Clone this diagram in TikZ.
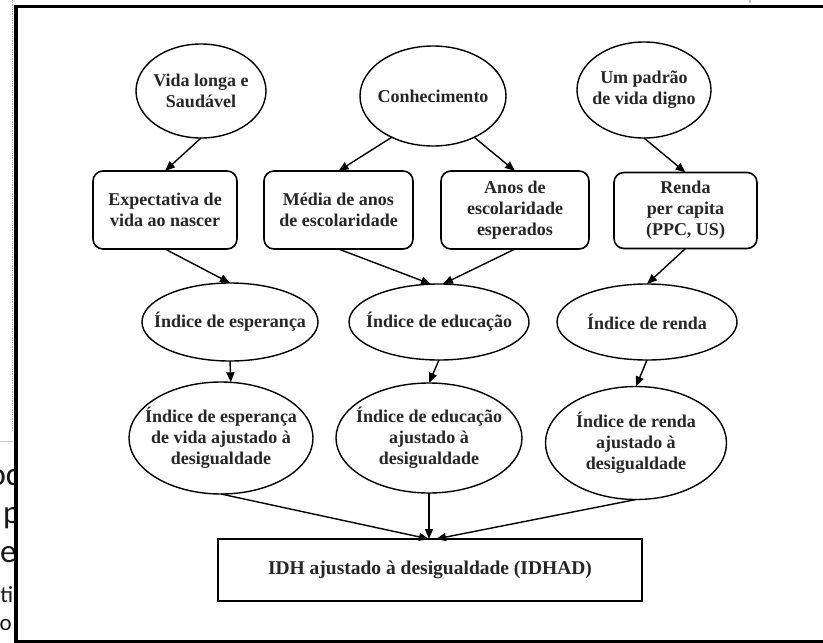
\documentclass[tikz,border=0pt]{standalone}
\usepackage{fontspec}
\setmainfont{Liberation Serif}
\newfontfamily\fragfont{Carlito}
\usetikzlibrary{shapes.geometric,arrows.meta}
\begin{document}
\begin{tikzpicture}[x=1pt,y=-1pt,
  every node/.style={inner sep=0pt,outer sep=0pt},
  ell/.style={draw,ellipse,line width=1.4pt},
  rbox/.style={draw,rectangle,rounded corners=10pt,line width=1.6pt},
  sbox/.style={draw,rectangle,line width=1.8pt},
  lbl/.style={align=center,font=\fontsize{18}{21}\selectfont\bfseries,text=black!85},
  biglbl/.style={align=center,font=\fontsize{19.5}{22}\selectfont\bfseries,text=black!85},
  frag/.style={anchor=base west,text=black!90},
  arr/.style={-{Triangle[length=10pt,width=8pt]},line width=1.4pt}]
\useasboundingbox (0,0) rectangle (823,643);
\fill[white] (0,0) rectangle (823,643);

% background fragments at the left edge
\draw[gray!60,densely dotted,line width=0.8pt] (12.5,0) -- (12.5,432);
\draw[gray!45,line width=1pt] (0,441) -- (13,441);
\draw[gray!50,line width=1.2pt] (750,0) -- (750,3);
\begin{scope}
\clip (0,0) rectangle (13.6,643);
\node[frag,font=\fragfont\fontsize{33}{33}\selectfont] (f1) at (-11.4,485) {oc};
\node[frag,font=\fragfont\fontsize{33}{33}\selectfont] (f2) at (3,523) {p};
\node[frag,font=\fragfont\fontsize{33}{33}\selectfont] (f3) at (0,562) {e};
\node[frag,font=\fragfont\fontsize{23}{23}\selectfont] (f4) at (0.5,602) {ti};
\node[frag,font=\fragfont\fontsize{23}{23}\selectfont] (f5) at (-0.5,630) {o};
\end{scope}

% frame
\draw[line width=3.8pt,line join=miter] (830,6.5) -- (15.6,6.5) -- (15.6,641.5) -- (830,641.5);

% row 1
\node[ell,minimum width=130pt,minimum height=94pt] (e1) at (201,91) {};
\node[lbl] (t1) at (e1) {Vida longa e\\Saudável};
\node[ell,minimum width=146pt,minimum height=100pt] (e2) at (433,96) {};
\node[lbl] (t2) at (e2) {Conhecimento};
\node[ell,minimum width=134pt,minimum height=96pt] (e3) at (644,90) {};
\node[lbl] (t3) at (e3) {Um padrão\\de vida digno};

% row 2
\node[rbox,minimum width=144pt,minimum height=78pt] (b1) at (165,210) {};
\node[lbl] (tb1) at (b1) {Expectativa de\\vida ao nascer};
\node[rbox,minimum width=149pt,minimum height=78pt] (b2) at (338.5,210) {};
\node[lbl] (tb2) at (b2) {Média de anos\\de escolaridade};
\node[rbox,minimum width=148pt,minimum height=78pt] (b3) at (515,210) {};
\node[lbl] (tb3) at (b3) {Anos de\\escolaridade\\esperados};
\node[rbox,minimum width=143pt,minimum height=76pt] (b4) at (685.5,210.5) {};
\node[lbl] (tb4) at (b4) {Renda\\per capita\\(PPC, US)};

% row 3
\node[ell,minimum width=176pt,minimum height=78pt] (e4) at (230,322) {};
\node[lbl] (t4) at (e4) {Índice de esperança};
\node[ell,minimum width=180pt,minimum height=76pt] (e5) at (439,322) {};
\node[lbl] (t5) at (e5) {Índice de educação};
\node[ell,minimum width=180pt,minimum height=76pt] (e6) at (647,322) {};
\node[lbl] (t6) at (e6) {Índice de renda};

% row 4
\node[ell,minimum width=184pt,minimum height=112pt] (e7) at (221,438) {};
\node[lbl] (t7) at (e7) {Índice de esperança\\de vida ajustado à\\desigualdade};
\node[ell,minimum width=186pt,minimum height=110pt] (e8) at (429,438) {};
\node[lbl] (t8) at (e8) {Índice de educação\\ajustado à\\desigualdade};
\node[ell,minimum width=181pt,minimum height=113pt] (e9) at (636,443) {};
\node[lbl] (t9) at (e9) {Índice de renda\\ajustado à\\desigualdade};

% bottom box
\node[sbox,minimum width=424pt,minimum height=62pt] (bx) at (430,570) {};
\node[biglbl] (tbx) at (bx) {IDH ajustado à desigualdade (IDHAD)};

% connectors
\draw[arr] (e1.south) -- (b1.north);
\draw[arr] (e2.225) -- (b2.north);
\draw[arr] (e2.315) -- (b3.north);
\draw[arr] (e3.south) -- (b4.north);
\draw[arr] (b1.south) -- (e4.north);
\draw[arr] (b2.south) -- (e5.102);
\draw[arr] (b3.south) -- (e5.84);
\draw[arr] (b4.south) -- (e6.north);
\draw[arr] (e4.south) -- (e7.80);
\draw[arr] (e5.south) -- (e8.north);
\draw[arr] (e6.south) -- (e9.north);
\draw[arr] (e7.south) -- ([xshift=-1pt]bx.north);
\draw[arr] (e8.south) -- (e8.south |- bx.north);
\draw[arr] (e9.south) -- ([xshift=6pt]bx.north);
\end{tikzpicture}
\end{document}
